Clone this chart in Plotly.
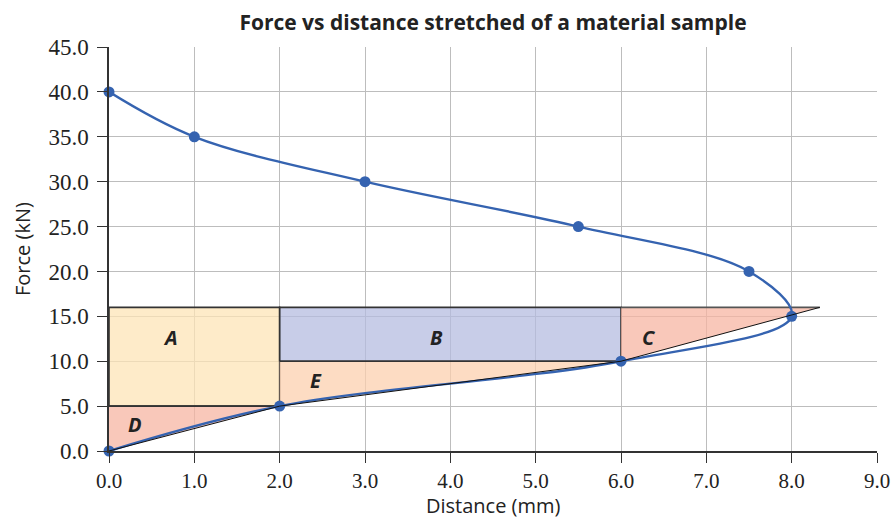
import plotly.graph_objects as go

# Data points on the force-distance curve (loading then unloading path)
distance = [0.0, 2.0, 6.0, 8.0, 7.5, 5.5, 3.0, 1.0, 0.0]
force = [0.0, 5.0, 10.0, 15.0, 20.0, 25.0, 30.0, 35.0, 40.0]

# Shaded regions (data-space corners)
top_force = 16.0
c_end_x = 8.33
region_A_x = [0, 2, 2, 0]
region_A_y = [5, 5, top_force, top_force]
region_B_x = [2, 6, 6, 2]
region_B_y = [10, 10, top_force, top_force]
region_C_x = [6, c_end_x, 6]
region_C_y = [10, top_force, top_force]
region_D_x = [0, 2, 0]
region_D_y = [0, 5, 5]
region_E_x = [2, 6, 2]
region_E_y = [5, 10, 10]

labels = ["A", "B", "C", "D", "E"]
label_x = [0.72, 3.84, 6.33, 0.3, 2.43]
label_y = [12.6, 12.6, 12.6, 3.0, 7.8]

x_ticks = [0, 1, 2, 3, 4, 5, 6, 7, 8, 9]
y_ticks = [0, 5, 10, 15, 20, 25, 30, 35, 40, 45]

fig = go.Figure()

def region(xs, ys, fill, outline=True):
    fig.add_trace(go.Scatter(
        x=xs + [xs[0]], y=ys + [ys[0]], mode="lines", fill="toself",
        fillcolor=fill,
        line=dict(color="#333333" if outline else "rgba(0,0,0,0)", width=1.6),
        hoverinfo="skip", showlegend=False))

region(region_A_x, region_A_y, "rgba(254,228,183,0.75)")
region(region_B_x, region_B_y, "rgba(182,188,224,0.75)")
region(region_C_x, region_C_y, "rgba(247,182,163,0.75)", outline=False)
region(region_D_x, region_D_y, "rgba(247,182,163,0.75)", outline=False)
region(region_E_x, region_E_y, "rgba(252,208,175,0.75)", outline=False)

# Outline pieces
fig.add_trace(go.Scatter(x=[6, c_end_x], y=[top_force, top_force], mode="lines",
                         line=dict(color="#555555", width=1.6), hoverinfo="skip", showlegend=False))
fig.add_trace(go.Scatter(x=[0, 2], y=[5, 5], mode="lines",
                         line=dict(color="#333333", width=1.6), hoverinfo="skip", showlegend=False))
fig.add_trace(go.Scatter(x=[2, 6], y=[10, 10], mode="lines",
                         line=dict(color="#333333", width=1.6), hoverinfo="skip", showlegend=False))

# Curve
fig.add_trace(go.Scatter(
    x=distance, y=force, mode="lines+markers", cliponaxis=False,
    line=dict(color="#3563B0", width=2.4, shape="spline", smoothing=1.0),
    marker=dict(color="#3563B0", size=11),
    hoverinfo="skip", showlegend=False))

# Diagonal chords
fig.add_trace(go.Scatter(x=[0, 2, 6, c_end_x], y=[0, 5, 10, top_force], mode="lines",
                         line=dict(color="#111111", width=1), hoverinfo="skip", showlegend=False))

for t, lx, ly in zip(labels, label_x, label_y):
    fig.add_annotation(x=lx, y=ly, text="<b><i>" + t + "</i></b>", showarrow=False,
                       font=dict(family="Open Sans, Noto Sans", size=20, color="#222222"))

# Axis titles
fig.add_annotation(text="Distance (mm)", xref="paper", yref="paper", x=0.5, y=-(505 - 451) / 404,
                   xanchor="center", yanchor="middle", showarrow=False,
                   font=dict(family="Open Sans, Noto Sans", size=20, color="#222222"))
fig.add_annotation(text="Force (kN)", xref="paper", yref="paper", x=-(109 - 22) / 768, y=0.5,
                   xanchor="center", yanchor="middle", showarrow=False, textangle=-90,
                   font=dict(family="Open Sans, Noto Sans", size=20, color="#222222"))

fig.update_layout(
    width=893, height=519,
    margin=dict(l=109, r=16, t=47, b=68),
    paper_bgcolor="white", plot_bgcolor="white",
    title=dict(text="<b>Force vs distance stretched of a material sample</b>",
               x=(109 + 877) / 2 / 893, xanchor="center", y=1 - 23 / 519, yanchor="middle",
               font=dict(family="Open Sans, Noto Sans", size=21, color="#222222")),
    xaxis=dict(range=[0, 9], tickvals=x_ticks, ticktext=[f"{v:.1f}" for v in x_ticks],
               showgrid=True, gridcolor="#BDBDBD", gridwidth=1,
               showline=True, linecolor="#333333", linewidth=1.5,
               ticks="outside", ticklen=10, tickcolor="#333333",
               tickfont=dict(family="Liberation Serif, DejaVu Serif", size=21, color="#222222"),
               automargin=False, zeroline=False, fixedrange=True),
    yaxis=dict(range=[0, 45], tickvals=y_ticks, ticktext=[f"{v:.1f}" for v in y_ticks],
               showgrid=True, gridcolor="#BDBDBD", gridwidth=1,
               showline=True, linecolor="#333333", linewidth=1.5,
               ticks="outside", ticklen=10, tickcolor="#333333", ticklabelstandoff=4,
               tickfont=dict(family="Liberation Serif, DejaVu Serif", size=23, color="#222222"),
               automargin=False, zeroline=False, fixedrange=True),
)

fig.write_html("out.html")
